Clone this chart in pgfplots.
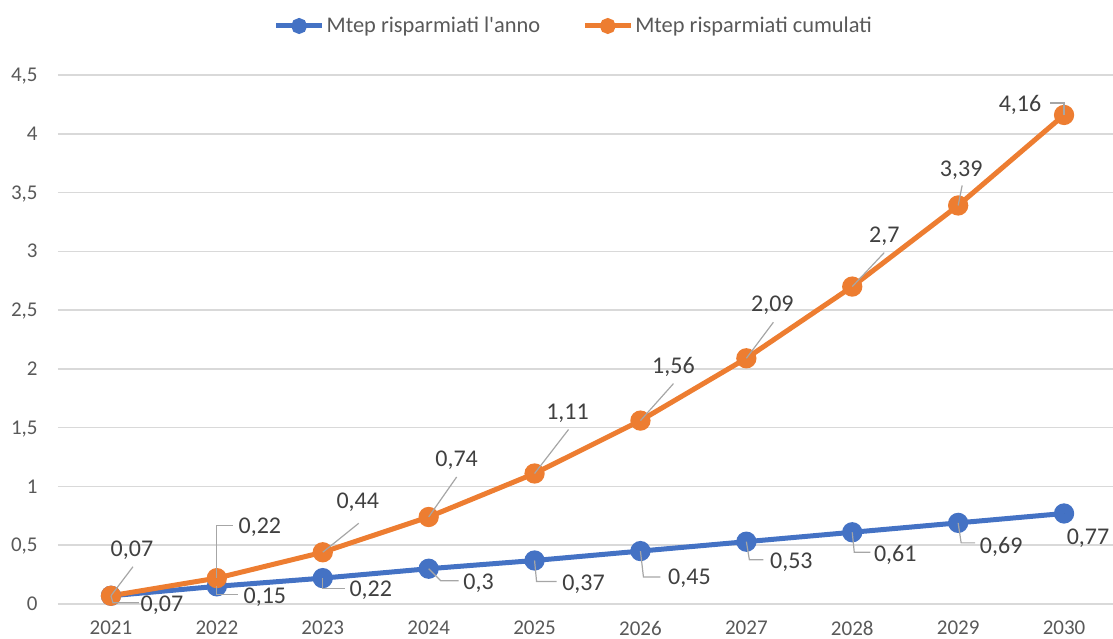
\documentclass[border=0pt]{standalone}
\usepackage{pgfplots}
\pgfplotsset{compat=1.18}
\usepackage{pgfplotstable}
\usepackage{fontspec}
\setmainfont{Carlito}
\definecolor{xblue}{HTML}{4472C4}
\definecolor{xorange}{HTML}{ED7D31}
\definecolor{gridgray}{HTML}{D9D9D9}
\definecolor{ticktext}{HTML}{595959}
\definecolor{labeltext}{HTML}{404040}
\definecolor{leadergray}{HTML}{A6A6A6}

% x  y  label offset (dx,dy), leader knee (mx,my) and end (ex,ey), in px relative to the point (y downwards)
\pgfplotstableread{
x    y     dx   dy   mx   my   ex   ey
2021 0.07  51   8    2    7    28   7
2022 0.15  48   10   0    8    21   8
2023 0.22  48   11   0    10   22   10
2024 0.30  50   13   12   12   30   12
2025 0.37  49   22   2    21   22   21
2026 0.45  49   26   3    26   20   26
2027 0.53  45   19   3    18   17   18
2028 0.61  43   22   2    20   18   20
2029 0.69  43   23   3    20   17   20
2030 0.77  24   23   0    0    0    0
}\annual

\pgfplotstableread{
x    y     dx   dy   mx   my   ex   ey
2021 0.07  21   -47  22   -29  22   -29
2022 0.22  43   -52  0    -53  16   -53
2023 0.44  35   -51  36   -29  36   -29
2024 0.74  28   -58  28   -40  28   -40
2025 1.11  33   -62  34   -44  34   -44
2026 1.56  33   -55  33   -37  33   -37
2027 2.09  26   -54  27   -36  27   -36
2028 2.70  32   -52  32   -34  32   -34
2029 3.39  3    -37  4    -20  4    -20
2030 4.16  -44  -11  0    -12  -14  -12
}\cumul

\tikzset{leader/.style={draw=leadergray, line width=0.6pt}}

\pgfplotsset{
  lbl/.style={
    forget plot,
    only marks, mark=*, mark size=0pt, mark options={draw=none, fill=none},
    point meta=explicit,
    nodes near coords={\pgfmathprintnumber[fixed, precision=2, use comma, assume math mode=true]{\pgfplotspointmeta}},
    visualization depends on={\thisrow{dx} \as \ldx},
    visualization depends on={\thisrow{dy} \as \ldy},
    visualization depends on={\thisrow{mx} \as \lmx},
    visualization depends on={\thisrow{my} \as \lmy},
    visualization depends on={\thisrow{ex} \as \lex},
    visualization depends on={\thisrow{ey} \as \ley},
    every node near coord/.style={
      anchor=base, inner sep=0pt, outer sep=0pt,
      font=\fontsize{12}{14}\selectfont, text=labeltext,
      xshift={0.5pt*(\ldx)}, yshift={-0.5pt*(\ldy)-3.8pt},
      append after command={\pgfextra{%
        \draw[leader]
          ([shift={({-0.5pt*(\ldx)},{0.5pt*(\ldy)+3.8pt})}]\tikzlastnode.base)
          -- ([shift={({0.5pt*((\lmx)-(\ldx))},{-0.5pt*((\lmy)-(\ldy))+3.8pt})}]\tikzlastnode.base)
          -- ([shift={({0.5pt*((\lex)-(\ldx))},{-0.5pt*((\ley)-(\ldy))+3.8pt})}]\tikzlastnode.base);
      }}
    },
  },
}

\begin{document}
\begin{tikzpicture}
\begin{axis}[
  name=ax,
  scale only axis,
  width=529.5pt, height=264.5pt,
  xmin=2020.5, xmax=2030.5,
  ymin=0, ymax=4.5,
  xtick={2021,2022,2023,2024,2025,2026,2027,2028,2029,2030},
  ytick={0,0.5,1,1.5,2,2.5,3,3.5,4,4.5},
  xticklabels={2021,2022,2023,2024,2025,2026,2027,2028,2029,2030},
  yticklabels={0,{0,5},1,{1,5},2,{2,5},3,{3,5},4,{4,5}},
  ymajorgrids,
  grid style={draw=gridgray, line width=0.8pt},
  axis line style={draw=none},
  major tick length=0pt,
  tick label style={font=\fontsize{10.5}{12}\selectfont, text=ticktext, inner sep=0pt},
  yticklabel style={anchor=base east, xshift=-10pt, yshift=-3.3pt},
  xticklabel style={anchor=north, yshift=-8.3pt},
  clip=false,
  legend columns=2,
  legend cell align=left,
  legend style={draw=none, fill=none, at={(0.487,1)}, anchor=center, yshift=24.5pt,
    font=\fontsize{11.2}{13}\selectfont, text=ticktext,
    nodes={inner sep=1pt},
    /tikz/every even column/.append style={column sep=20pt}},
  legend image code/.code={\draw[#1, mark repeat=2, mark phase=2, mark size=2.7pt] plot coordinates {(0pt,0pt) (11.5pt,0pt) (23pt,0pt)};},
]
\addplot[color=xblue, line width=2.5pt, mark=*, mark size=3.8pt, mark options={fill=xblue, draw=none}]
  table[x=x, y=y] {\annual};
\addlegendentry{Mtep risparmiati l\textquotesingle anno}
\addplot[color=xorange, line width=2.5pt, mark=*, mark size=3.8pt, mark options={fill=xorange, draw=none}]
  table[x=x, y=y] {\cumul};
\addlegendentry{Mtep risparmiati cumulati}
\addplot[lbl] table[x=x, y=y, meta=y] {\annual};
\addplot[lbl] table[x=x, y=y, meta=y] {\cumul};
\end{axis}
\pgfresetboundingbox
\path[use as bounding box] ([xshift=-29pt,yshift=-17.5pt]ax.south west) rectangle ([xshift=-2pt,yshift=37.5pt]ax.north east);
\end{tikzpicture}
\end{document}
